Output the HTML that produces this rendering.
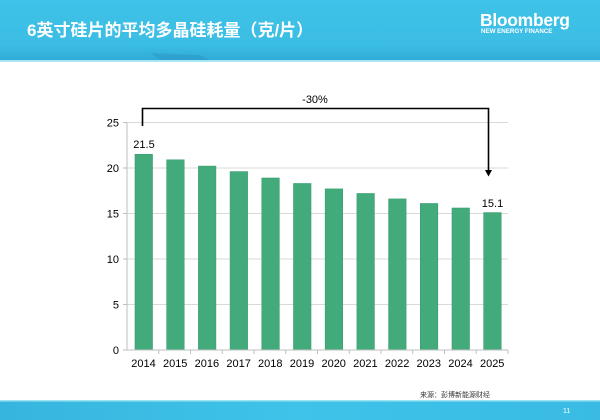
<!DOCTYPE html>
<html>
<head>
<meta charset="utf-8">
<style>
  html,body{margin:0;padding:0;background:#fff;}
  body{width:600px;height:420px;overflow:hidden;}
  svg{display:block;}
  text{font-family:"Liberation Sans","Noto Sans CJK SC",sans-serif;}
</style>
</head>
<body>
<svg width="600" height="420" viewBox="0 0 600 420" xmlns="http://www.w3.org/2000/svg">
  <defs>
    <linearGradient id="hdr" x1="0" y1="0" x2="0" y2="1">
      <stop offset="0" stop-color="#3fc2e8"/>
      <stop offset="0.75" stop-color="#3bbde4"/>
      <stop offset="1" stop-color="#31acd6"/>
    </linearGradient>
    <linearGradient id="ftr" x1="0" y1="0" x2="1" y2="0">
      <stop offset="0" stop-color="#36b6de"/>
      <stop offset="0.5" stop-color="#3fc3e9"/>
      <stop offset="1" stop-color="#39bbe3"/>
    </linearGradient>
  </defs>

  <!-- header -->
  <rect x="0" y="0" width="600" height="60" fill="url(#hdr)"/>
  <path d="M150 53 L200 55 L210 60 L160 60 Z" fill="#2a93c4" opacity="0.45"/>
  <rect x="0" y="60" width="600" height="2" fill="#a8e6f6"/>
  <text x="27" y="36" font-size="17" font-weight="bold" fill="#ffffff">6英寸硅片的平均多晶硅耗量（克/片）</text>
  <text x="480" y="26" font-size="17.5" font-weight="bold" fill="#ffffff" letter-spacing="-0.3">Bloomberg</text>
  <text x="481" y="33" font-size="6.2" font-weight="bold" fill="#ffffff">NEW ENERGY FINANCE</text>

  <!-- footer -->
  <rect x="0" y="401" width="600" height="19" fill="url(#ftr)"/>
  <rect x="0" y="400" width="600" height="1.5" fill="#9fe2f4"/>
  <text x="563" y="413" font-size="7" fill="#ffffff">11</text>
  <text x="420" y="397" font-size="7" fill="#333333" font-family="Noto Serif CJK SC, serif">来源：彭博新能源财经</text>

  <!-- gridlines -->
  <g stroke="#d9d9d9" stroke-width="1">
    <line x1="127" y1="122.5" x2="508" y2="122.5"/>
    <line x1="127" y1="168" x2="508" y2="168"/>
    <line x1="127" y1="213.5" x2="508" y2="213.5"/>
    <line x1="127" y1="259" x2="508" y2="259"/>
    <line x1="127" y1="304.5" x2="508" y2="304.5"/>
  </g>

  <!-- bars -->
  <g fill="#43ab7b" stroke="#3a9c6e" stroke-width="0.6">
    <rect x="135" y="154.3" width="17.5" height="195.7"/>
    <rect x="166.7" y="159.8" width="17.5" height="190.2"/>
    <rect x="198.4" y="166.1" width="17.5" height="183.9"/>
    <rect x="230.1" y="171.6" width="17.5" height="178.4"/>
    <rect x="261.8" y="178" width="17.5" height="172"/>
    <rect x="293.5" y="183.5" width="17.5" height="166.5"/>
    <rect x="325.2" y="188.9" width="17.5" height="161.1"/>
    <rect x="356.9" y="193.5" width="17.5" height="156.5"/>
    <rect x="388.6" y="198.9" width="17.5" height="151.1"/>
    <rect x="420.3" y="203.5" width="17.5" height="146.5"/>
    <rect x="452" y="208" width="17.5" height="142"/>
    <rect x="483.7" y="212.6" width="17.5" height="137.4"/>
  </g>

  <!-- axes -->
  <g stroke="#bfbfbf" stroke-width="1">
    <line x1="127" y1="122.5" x2="127" y2="350"/>
    <line x1="123" y1="350" x2="508" y2="350"/>
    <line x1="123" y1="122.5" x2="127" y2="122.5"/>
    <line x1="123" y1="168" x2="127" y2="168"/>
    <line x1="123" y1="213.5" x2="127" y2="213.5"/>
    <line x1="123" y1="259" x2="127" y2="259"/>
    <line x1="123" y1="304.5" x2="127" y2="304.5"/>
    <line x1="158.75" y1="350" x2="158.75" y2="354"/>
    <line x1="190.5" y1="350" x2="190.5" y2="354"/>
    <line x1="222.25" y1="350" x2="222.25" y2="354"/>
    <line x1="254" y1="350" x2="254" y2="354"/>
    <line x1="285.75" y1="350" x2="285.75" y2="354"/>
    <line x1="317.5" y1="350" x2="317.5" y2="354"/>
    <line x1="349.25" y1="350" x2="349.25" y2="354"/>
    <line x1="381" y1="350" x2="381" y2="354"/>
    <line x1="412.75" y1="350" x2="412.75" y2="354"/>
    <line x1="444.5" y1="350" x2="444.5" y2="354"/>
    <line x1="476.25" y1="350" x2="476.25" y2="354"/>
    <line x1="508" y1="350" x2="508" y2="354"/>
  </g>

  <!-- y labels -->
  <g font-size="11" fill="#000" text-anchor="end">
    <text x="119" y="126.5">25</text>
    <text x="119" y="172">20</text>
    <text x="119" y="217.5">15</text>
    <text x="119" y="263">10</text>
    <text x="119" y="308.5">5</text>
    <text x="119" y="354">0</text>
  </g>

  <!-- x labels -->
  <g font-size="11" fill="#000" text-anchor="middle">
    <text x="143.5" y="367">2014</text>
    <text x="175.2" y="367">2015</text>
    <text x="206.9" y="367">2016</text>
    <text x="238.6" y="367">2017</text>
    <text x="270.3" y="367">2018</text>
    <text x="302" y="367">2019</text>
    <text x="333.7" y="367">2020</text>
    <text x="365.4" y="367">2021</text>
    <text x="397.1" y="367">2022</text>
    <text x="428.8" y="367">2023</text>
    <text x="460.5" y="367">2024</text>
    <text x="492.2" y="367">2025</text>
  </g>

  <!-- data labels -->
  <text x="144" y="148" font-size="11" text-anchor="middle" fill="#000">21.5</text>
  <text x="492.5" y="207" font-size="11" text-anchor="middle" fill="#000">15.1</text>

  <!-- bracket -->
  <g stroke="#000" stroke-width="1.6" fill="none">
    <polyline points="142.5,126 142.5,108.5 488.5,108.5 488.5,171"/>
  </g>
  <polygon points="485,170 492,170 488.5,176.5" fill="#000"/>
  <text x="315" y="103" font-size="11" text-anchor="middle" fill="#000">-30%</text>
</svg>
</body>
</html>
